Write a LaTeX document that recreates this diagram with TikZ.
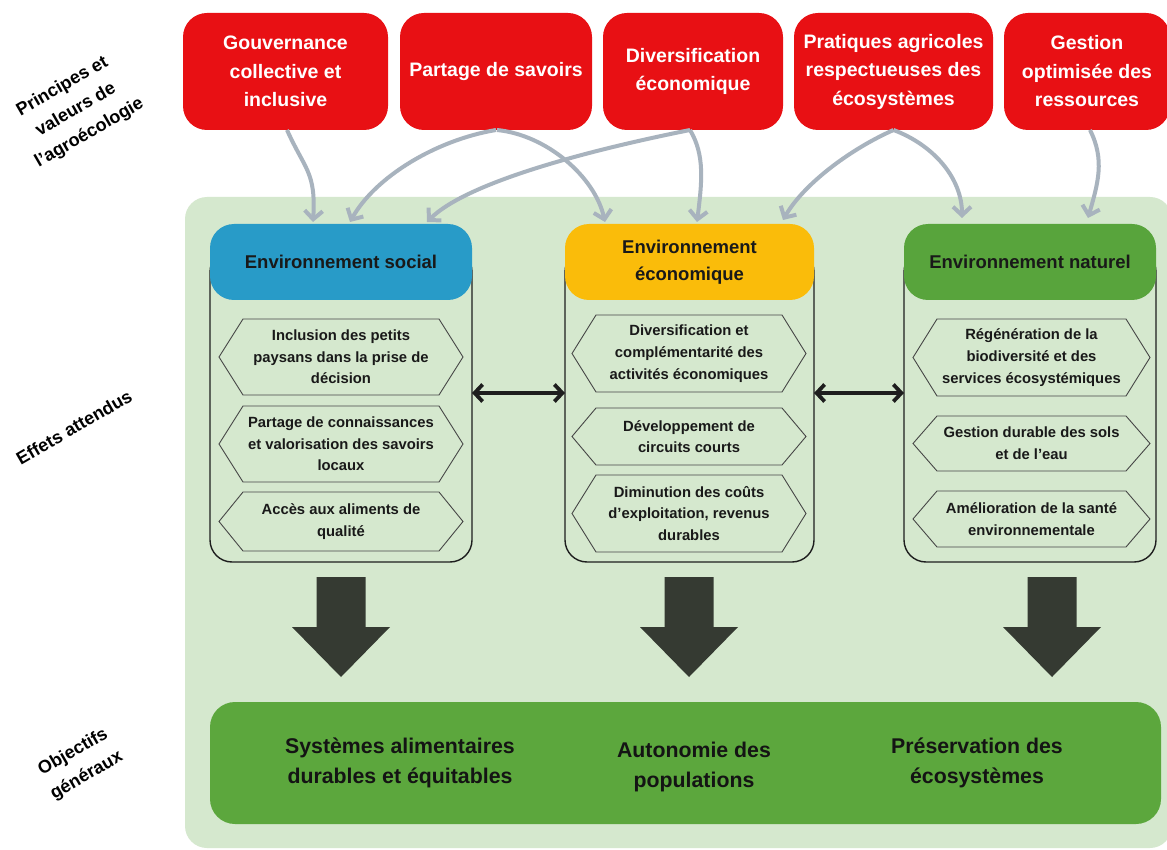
\documentclass[tikz,border=0pt]{standalone}
\usepackage{fontspec}
\setmainfont{Liberation Sans}
\usetikzlibrary{arrows.meta}
\definecolor{cred}{RGB}{232,16,20}
\definecolor{cblue}{RGB}{40,155,200}
\definecolor{cyellow}{RGB}{250,188,10}
\definecolor{cgreenhd}{RGB}{88,164,60}
\definecolor{cbg}{RGB}{213,232,206}
\definecolor{cbot}{RGB}{92,167,61}
\definecolor{cdark}{RGB}{53,58,50}
\definecolor{cgray}{RGB}{168,179,190}
\definecolor{cline}{RGB}{30,30,30}
\definecolor{chex}{RGB}{70,70,70}
\begin{document}
\begin{tikzpicture}[x=1pt,y=-1pt,
  redbox/.style={rectangle, rounded corners=24pt, fill=cred, text=white,
    font=\bfseries\fontsize{19.5}{28.5}\selectfont, align=center,
    minimum height=117pt, inner sep=0pt, outer sep=0pt},
  sidelabel/.style={font=\bfseries\fontsize{18}{27}\selectfont, align=center, rotate=30, text=black},
  panel/.style={rectangle, draw=cline, line width=1.4pt, rounded corners=22pt,
    minimum height=312pt, inner sep=0pt, outer sep=0pt},
  header/.style={rectangle, rounded corners=24pt, minimum height=76pt, inner sep=0pt,
    outer sep=0pt, align=center, font=\bfseries\fontsize{18.5}{27.5}\selectfont, text=black!90},
  item/.style={rectangle, inner sep=0pt, outer sep=0pt, align=center,
    font=\bfseries\fontsize{14.8}{21.7}\selectfont, text=black!90},
  hexline/.style={draw=chex, line width=0.9pt, line join=miter},
  grayarrow/.style={draw=cgray, line width=4pt, -{Straight Barb[length=8.5pt,width=18pt]}},
  dblarrow/.style={draw=cline, line width=3.8pt,
    {Straight Barb[length=8pt,width=17pt]}-{Straight Barb[length=8pt,width=17pt]}},
  bigarrow/.style={fill=cdark},
  goaltext/.style={font=\bfseries\fontsize{21.3}{30}\selectfont, align=center, text=black!92}
]
\useasboundingbox (0,0) rectangle (1167,850);
\fill[white] (0,0) rectangle (1167,850);

% background
\fill[cbg, rounded corners=22pt] (185,197) rectangle (1172,848);

% top principles
\node[redbox, minimum width=205pt] (gov) at (285.5,71.5) {Gouvernance\\collective et\\inclusive};
\node[redbox, minimum width=192pt] (par) at (496,71.5) {Partage de savoirs};
\node[redbox, minimum width=180pt] (div) at (693,71.5) {Diversification\\économique};
\node[redbox, minimum width=199pt] (pra) at (893.5,71.5) {Pratiques agricoles\\respectueuses des\\écosystèmes};
\node[redbox, minimum width=166pt] (ges) at (1087,71.5) {Gestion\\optimisée des\\ressources};

% side labels
\node[sidelabel] (lab1) at (76,110) {Principes et\\valeurs de\\l’agroécologie};
\node[sidelabel] (lab2) at (74,427) {Effets attendus};
\node[sidelabel] (lab3) at (80,764) {Objectifs\\généraux};

% panels
\node[panel, minimum width=262pt] (socP) at (341,406) {};
\node[panel, minimum width=249pt] (ecoP) at (689.5,406) {};
\node[panel, minimum width=252pt] (natP) at (1030,406) {};

\node[header, fill=cblue, minimum width=262pt] (socH) at (341,262) {Environnement social};
\node[header, fill=cyellow, minimum width=249pt] (ecoH) at (689.5,262) {Environnement\\économique};
\node[header, fill=cgreenhd, minimum width=252pt] (natH) at (1030,262) {Environnement naturel};

% items
\node[item, minimum width=244pt, minimum height=76pt] (s1) at (341,357) {Inclusion des petits\\paysans dans la prise de\\décision};
\node[item, minimum width=244pt, minimum height=76pt] (s2) at (341,444) {Partage de connaissances\\et valorisation des savoirs\\locaux};
\node[item, minimum width=244pt, minimum height=59pt] (s3) at (341,521.5) {Accès aux aliments de\\qualité};

\node[item, minimum width=234pt, minimum height=77pt] (e1) at (689,353.5) {Diversification et\\complémentarité des\\activités économiques};
\node[item, minimum width=234pt, minimum height=57pt] (e2) at (689,436.5) {Développement de\\circuits courts};
\node[item, minimum width=234pt, minimum height=77pt] (e3) at (689,513.5) {Diminution des coûts\\d’exploitation, revenus\\durables};

\node[item, minimum width=237pt, minimum height=77pt] (n1) at (1031.5,357.5) {Régénération de la\\biodiversité et des\\services écosystémiques};
\node[item, minimum width=237pt, minimum height=55pt] (n2) at (1031.5,443.5) {Gestion durable des sols\\et de l’eau};
\node[item, minimum width=237pt, minimum height=56pt] (n3) at (1031.5,519) {Amélioration de la santé\\environnementale};

\foreach \n in {s1,s2,s3,e1,e2,e3,n1,n2,n3}
  \draw[hexline] (\n.west) -- ([xshift=24pt]\n.north west) -- ([xshift=-24pt]\n.north east)
    -- (\n.east) -- ([xshift=-24pt]\n.south east) -- ([xshift=24pt]\n.south west) -- cycle;

% double arrows between panels
\draw[dblarrow] ([yshift=13pt]socP.east) -- ([yshift=13pt]ecoP.west);
\draw[dblarrow] ([yshift=13pt]ecoP.east) -- ([yshift=13pt]natP.west);

% gray arrows from principles
\draw[grayarrow] ([xshift=1.5pt]gov.south) .. controls +(18,40) and +(3,-50) .. ([xshift=-28pt,yshift=2pt]socH.north);
\draw[grayarrow] (par.south) .. controls +(-60,10) and +(25,-45) .. ([xshift=9pt,yshift=2pt]socH.north);
\draw[grayarrow] ([xshift=1pt]par.south) .. controls +(50,5) and +(-10,-45) .. ([xshift=-84.5pt,yshift=2pt]ecoH.north);
\draw[grayarrow] ([xshift=-3pt]div.south) .. controls +(-100,20) and +(40,-40) .. ([xshift=86pt,yshift=2pt]socH.north);
\draw[grayarrow] ([xshift=-3pt]div.south) .. controls +(15,25) and +(5,-40) .. ([xshift=7.5pt,yshift=2pt]ecoH.north);
\draw[grayarrow] (pra.south) .. controls +(-45,20) and +(20,-35) .. ([xshift=93.5pt,yshift=4pt]ecoH.north);
\draw[grayarrow] (pra.south) .. controls +(40,15) and +(0,-40) .. ([xshift=-68pt,yshift=6pt]natH.north);
\draw[grayarrow] ([xshift=3pt]ges.south) .. controls +(15,30) and +(10,-35) .. ([xshift=58pt,yshift=6pt]natH.north);

% big down arrows
\foreach \cx in {341,689,1052}
  \fill[bigarrow] (\cx-24.5,577) -- (\cx+24.5,577) -- (\cx+24.5,627) -- (\cx+49,627)
    -- (\cx,677) -- (\cx-49,627) -- (\cx-24.5,627) -- cycle;

% bottom goals
\node[rectangle, rounded corners=25pt, fill=cbot, minimum width=951pt, minimum height=122pt,
  inner sep=0pt] (goals) at (685.5,763) {};
\node[goaltext] (g1) at (400,763) {Systèmes alimentaires\\durables et équitables};
\node[goaltext] (g2) at (694,767) {Autonomie des\\populations};
\node[goaltext] (g3) at (977,763) {Préservation des\\écosystèmes};
\end{tikzpicture}
\end{document}
